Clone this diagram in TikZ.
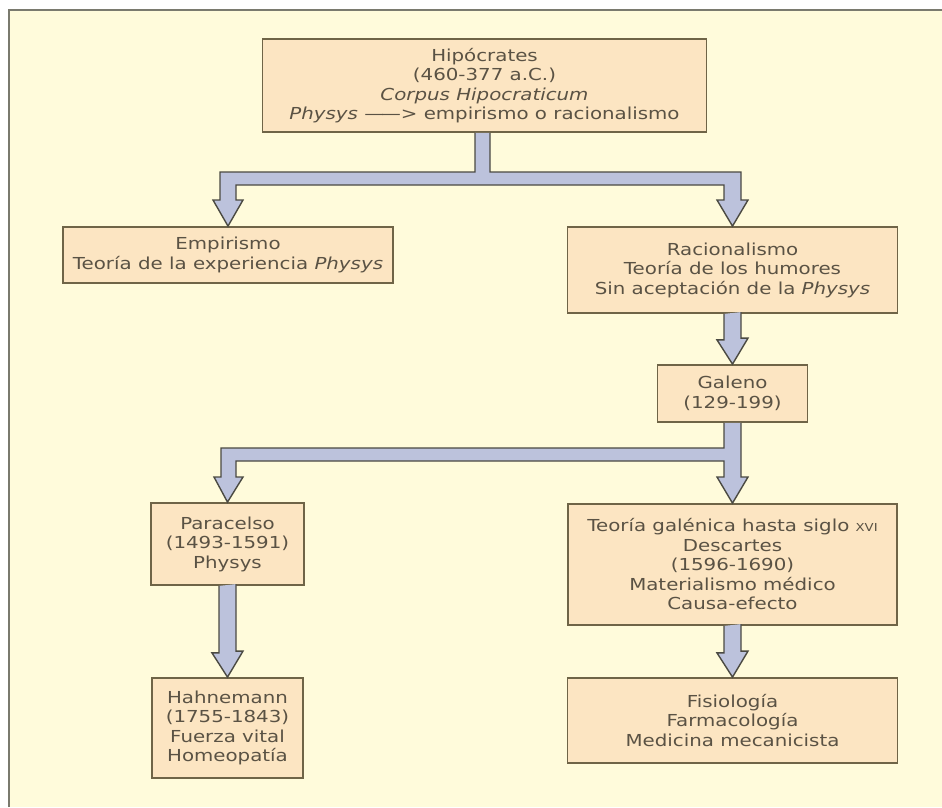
\documentclass[tikz,border=0pt]{standalone}
\usepackage{fontspec}
\setmainfont{DejaVu Sans}[FakeStretch=1.2]
\definecolor{bg}{HTML}{FFFBDB}
\definecolor{boxfill}{HTML}{FCE5C2}
\definecolor{boxline}{HTML}{6F6447}
\definecolor{txt}{HTML}{5A5244}
\definecolor{arrowfill}{HTML}{BCC2DC}
\definecolor{arrowline}{HTML}{4B4A42}
\definecolor{framecol}{HTML}{7A7A6E}
\newcommand{\boxfont}{\fontsize{16.5}{19.5}\selectfont}
\newcommand{\smallcapsfake}[1]{{\fontsize{11}{12}\selectfont #1}}
\begin{document}
\begin{tikzpicture}[x=1pt,y=-1pt,
  box/.style={draw=boxline, line width=1.8pt, fill=boxfill, text=txt, align=center,
    inner sep=0pt, font=\boxfont},
  blk/.style={fill=arrowfill, draw=arrowline, line width=1.4pt, line join=miter}]
\useasboundingbox (0,0) rectangle (942,807);
\fill[white] (0,0) rectangle (942,807);
\fill[bg] (9,10) rectangle (942,807);
\draw[framecol, line width=2.5pt] (9,807) -- (9,10) -- (942,10);

\node[box, minimum width=444pt, minimum height=93pt] (hip) at (484.5,85.5)
  {Hipócrates\\(460-377 a.C.)\\\textit{Corpus Hipocraticum}\\\textit{Physys} —\kern-3pt—> empirismo o racionalismo};
\node[box, minimum width=330pt, minimum height=56pt] (emp) at (228,255)
  {Empirismo\\Teoría de la experiencia \textit{Physys}};
\node[box, minimum width=330pt, minimum height=86pt] (rac) at (732.5,270)
  {Racionalismo\\Teoría de los humores\\Sin aceptación de la \textit{Physys}};
\node[box, minimum width=150pt, minimum height=57pt] (gal) at (732.5,393.5)
  {Galeno\\(129-199)};
\node[box, minimum width=153pt, minimum height=82pt] (par) at (227.5,544)
  {Paracelso\\(1493-1591)\\Physys};
\node[box, minimum width=329pt, minimum height=121pt] (teo) at (732.5,564.5)
  {Teoría galénica hasta siglo \smallcapsfake{XVI}\\Descartes\\(1596-1690)\\Materialismo médico\\Causa-efecto};
\node[box, minimum width=151pt, minimum height=100pt] (hah) at (227.5,728)
  {Hahnemann\\(1755-1843)\\Fuerza vital\\Homeopatía};
\node[box, minimum width=330pt, minimum height=85pt] (fis) at (732.5,720.5)
  {Fisiología\\Farmacología\\Medicina mecanicista};

% top T-junction
\filldraw[blk] ([xshift=-9.5pt]hip.south) -- (475,172) -- (220,172) -- (220,200) -- (213,200)
  -- (emp.north) -- (243,200) -- (236,200) -- (236,185) -- (724,185) -- (724,200) -- (717,200)
  -- (rac.north) -- (748,200) -- (741,200) -- (741,172) -- (490,172) -- ([xshift=5.5pt]hip.south);
% Racionalismo -> Galeno
\filldraw[blk] ([xshift=-8.5pt]rac.south) -- ++(0,26) -- ++(-7,0) -- (gal.north)
  -- ++(15.5,-26) -- ++(-7,0) -- ++(0,-26);
% Galeno T-junction
\filldraw[blk] ([xshift=-8.5pt]gal.south) -- (724,448) -- (221,448) -- (221,477) -- (214,477)
  -- (par.north) -- (243,477) -- (236,477) -- (236,461) -- (724,461) -- (724,477) -- (717,477)
  -- (teo.north) -- (748,477) -- (741,477) -- ([xshift=8.5pt]gal.south);
% Paracelso -> Hahnemann
\filldraw[blk] ([xshift=-8.5pt]par.south) -- ++(0,67) -- ++(-7,0) -- (hah.north)
  -- ++(15.5,-26) -- ++(-7,0) -- ++(0,-67);
% Teoria -> Fisiologia
\filldraw[blk] ([xshift=-8.5pt]teo.south) -- ++(0,27) -- ++(-7,0) -- (fis.north)
  -- ++(15.5,-26) -- ++(-7,0) -- ++(0,-27);
\end{tikzpicture}
\end{document}
